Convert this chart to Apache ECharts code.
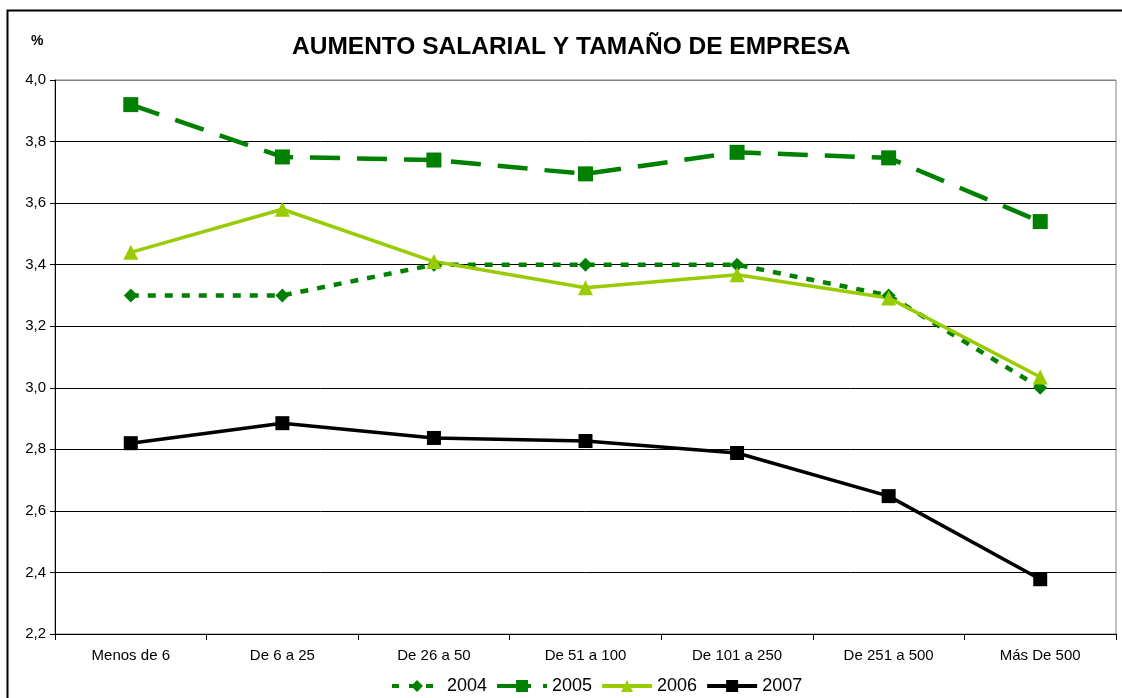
<!DOCTYPE html>
<html>
<head>
<meta charset="utf-8">
<script src="https://cdn.jsdelivr.net/npm/echarts@6/dist/echarts.min.js"></script>
<style>
  html, body { margin: 0; padding: 0; background: #fff; }
  #chart { width: 1122px; height: 698px; }
</style>
</head>
<body>
<div id="chart"></div>
<script>
// tamaños de empresa
const categories = ["Menos de 6", "De 6 a 25", "De 26 a 50", "De 51 a 100", "De 101 a 250", "De 251 a 500", "Más De 500"];
const years = ["2004", "2005", "2006", "2007"];

const s2004 = [3.30, 3.30, 3.40, 3.40, 3.40, 3.30, 3.00];
const s2005 = [3.92, 3.75, 3.74, 3.695, 3.765, 3.747, 3.54];
const s2006 = [3.44, 3.58, 3.41, 3.325, 3.367, 3.292, 3.035];
const s2007 = [2.82, 2.885, 2.837, 2.827, 2.788, 2.648, 2.378];

const FONT = "Liberation Sans, Arial, sans-serif";

const chart = echarts.init(document.getElementById("chart"));

const styles = {
  "2004": { color: "#008000", width: 4.5, dash: [8, 9], legendDash: [7, 10], symbol: "diamond", size: 14 },
  "2005": { color: "#008000", width: 4.5, dash: [30, 17], legendDash: [34, 12], symbol: "rect", size: 15 },
  "2006": { color: "#99CC00", width: 3.5, dash: "solid", legendDash: "solid", symbol: "triangle", size: 15 },
  "2007": { color: "#000000", width: 3.5, dash: "solid", legendDash: "solid", symbol: "rect", size: 14 },
};

function line(name, data) {
  const s = styles[name];
  return {
    name,
    type: "line",
    data,
    symbol: s.symbol,
    symbolSize: s.size,
    showAllSymbol: true,
    itemStyle: { color: s.color },
    lineStyle: { color: s.color, width: s.width, type: s.dash },
    emphasis: { disabled: true },
    z: 3,
  };
}

// last split line (4,0) is the grey plot border
const splitColors = ["#000", "#000", "#000", "#000", "#000", "#000", "#000", "#000", "#000", "#808080"];

chart.setOption({
  animation: false,
  backgroundColor: "#fff",
  textStyle: { fontFamily: FONT },
  graphic: [
    {
      type: "rect",
      shape: { x: 7.5, y: 10.5, width: 1130, height: 700 },
      style: { fill: "none", stroke: "#000", lineWidth: 2 },
      silent: true,
    },
    {
      type: "text",
      left: 31, top: 34,
      style: { text: "%", font: "bold 14px " + FONT, fill: "#000" },
    },
  ],
  title: {
    text: "AUMENTO SALARIAL Y TAMAÑO DE EMPRESA",
    left: 287,
    top: 30,
    textStyle: { fontFamily: FONT, fontSize: 24.5, fontWeight: "bold", color: "#000" },
  },
  grid: { left: 55, right: 6, top: 80, bottom: 64, show: true, borderColor: "#808080", borderWidth: 1 },
  legend: {
    bottom: -2,
    left: 385,
    itemWidth: 50,
    itemHeight: 15,
    itemGap: 8,
    textStyle: { fontFamily: FONT, fontSize: 18, color: "#000" },
    data: years.map((y) => ({
      name: y,
      itemStyle: { color: styles[y].color },
      lineStyle: { color: styles[y].color, width: 4, type: styles[y].legendDash },
    })),
  },
  xAxis: {
    type: "category",
    data: categories,
    boundaryGap: true,
    axisLine: { lineStyle: { color: "#000", width: 1 } },
    axisTick: { show: true, length: 6, lineStyle: { color: "#000" } },
    axisLabel: { color: "#000", fontSize: 15, margin: 14, fontFamily: FONT },
  },
  yAxis: {
    type: "value",
    min: 2.2,
    max: 4.0,
    interval: 0.2,
    axisLine: { show: true, lineStyle: { color: "#000", width: 1 } },
    axisTick: { show: true, length: 5, lineStyle: { color: "#000" } },
    axisLabel: {
      color: "#000", fontSize: 15, margin: 9, fontFamily: FONT,
      formatter: (v) => v.toFixed(1).replace(".", ","),
    },
    splitLine: { show: true, lineStyle: { color: splitColors, width: 1 } },
  },
  series: [
    line("2004", s2004),
    line("2005", s2005),
    line("2006", s2006),
    line("2007", s2007),
  ],
});
</script>
</body>
</html>
